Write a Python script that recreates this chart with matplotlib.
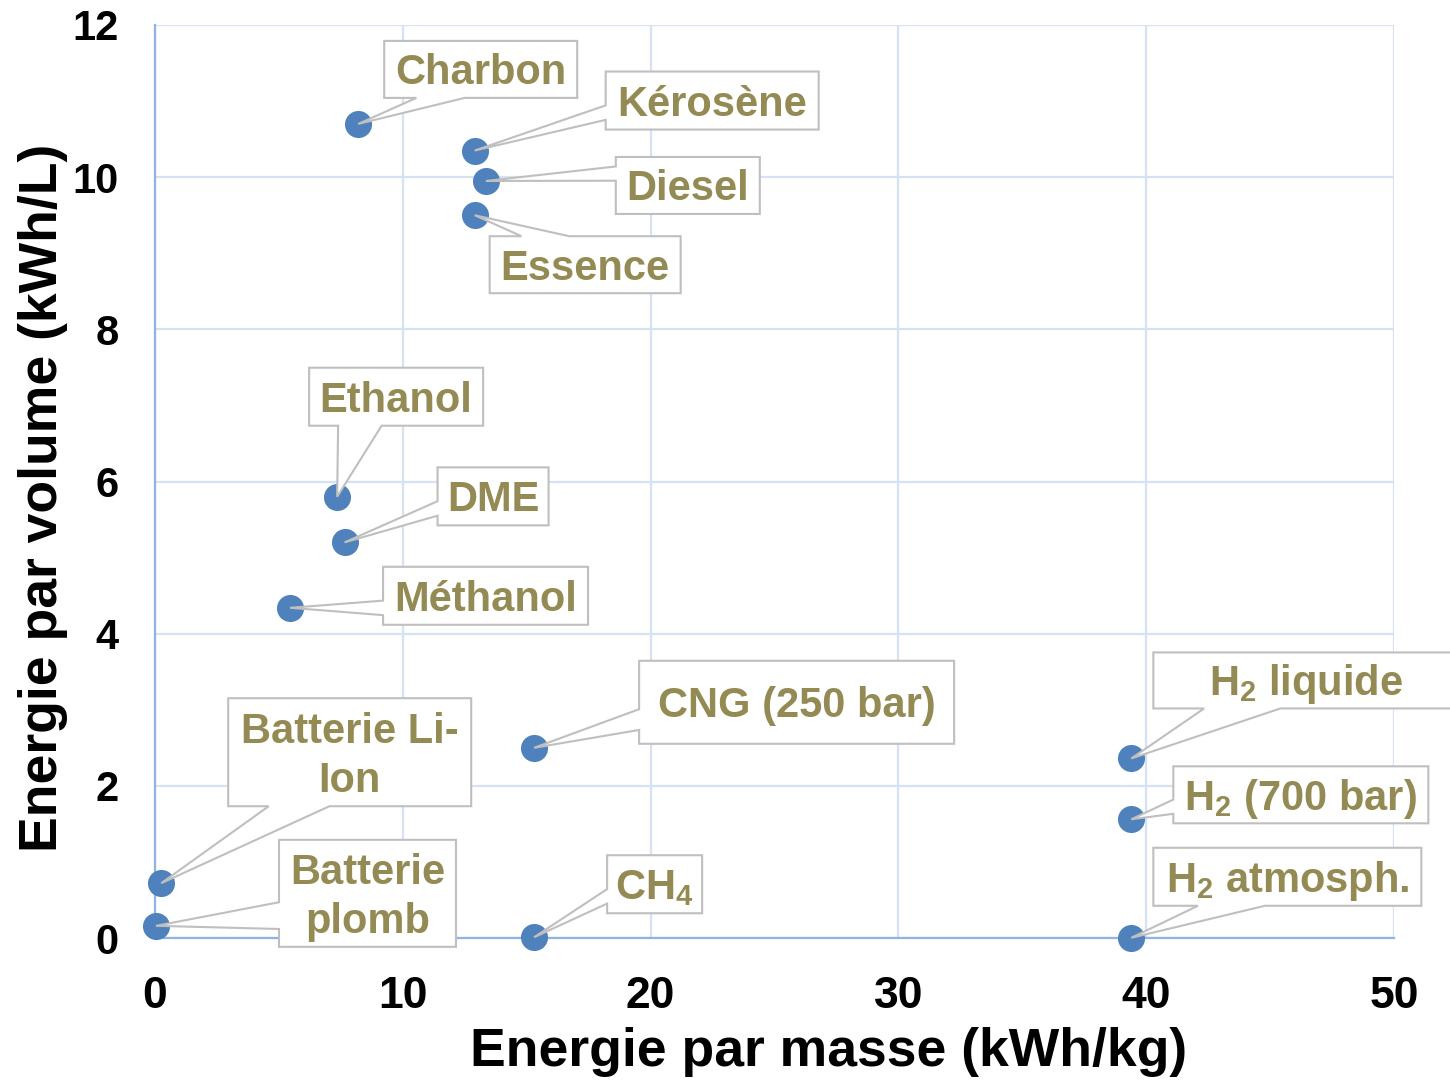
import matplotlib
matplotlib.use('Agg')
import matplotlib.pyplot as plt
from matplotlib.patches import Polygon
from matplotlib.transforms import IdentityTransform

# ---------------- data ----------------
names = ['Charbon', 'Kérosène', 'Diesel', 'Essence', 'Ethanol', 'DME', 'Méthanol',
         'CNG (250 bar)', 'CH4', 'Batterie Li-Ion', 'Batterie plomb',
         'H2 liquide', 'H2 (700 bar)', 'H2 atmosph.']
masse = [8.2, 12.9, 13.35, 12.9, 7.35, 7.65, 5.45,
         15.3, 15.3, 0.25, 0.04,
         39.4, 39.4, 39.4]          # kWh/kg
volume = [10.7, 10.35, 9.95, 9.5, 5.8, 5.2, 4.34,
          2.5, 0.01, 0.72, 0.16,
          2.36, 1.56, 0.003]        # kWh/L

label_text = {
    'Charbon': ['Charbon'],
    'Kérosène': ['Kérosène'],
    'Diesel': ['Diesel'],
    'Essence': ['Essence'],
    'Ethanol': ['Ethanol'],
    'DME': ['DME'],
    'Méthanol': ['Méthanol'],
    'CNG (250 bar)': ['CNG (250 bar)'],
    'CH4': [r'CH$_\mathrm{4}$'],
    'Batterie Li-Ion': ['Batterie Li-', 'Ion'],
    'Batterie plomb': ['Batterie', 'plomb'],
    'H2 liquide': [r'H$_\mathrm{2}$ liquide'],
    'H2 (700 bar)': [r'H$_\mathrm{2}$ (700 bar)'],
    'H2 atmosph.': [r'H$_\mathrm{2}$ atmosph.'],
}

# callout layout: edge holding the pointer, box left/top offset from the point (px, y down), width, height
callout_layout = {
    'Charbon': ('B', 26, -83, 193, 57),
    'Kérosène': ('L', 131, -79, 213, 58),
    'Diesel': ('L', 130, -24, 144, 57),
    'Essence': ('T', 15, 21, 191, 57),
    'Ethanol': ('B', -28, -129, 174, 58),
    'DME': ('L', 93, -75, 111, 58),
    'Méthanol': ('L', 93, -41, 205, 58),
    'CNG (250 bar)': ('L', 105, -87, 315, 83),
    'CH4': ('L', 73, -82, 95, 58),
    'Batterie Li-Ion': ('B', 67, -185, 243, 108),
    'Batterie plomb': ('L', 123, -86, 177, 107),
    'H2 liquide': ('B', 22, -106, 305, 56),
    'H2 (700 bar)': ('L', 42, -53, 255, 57),
    'H2 atmosph.': ('B', 22, -90, 268, 58),
}

plt.rcParams['font.family'] = 'Liberation Sans'
plt.rcParams['font.weight'] = 'bold'
plt.rcParams['axes.labelweight'] = 'bold'
plt.rcParams['mathtext.fontset'] = 'custom'
plt.rcParams['mathtext.rm'] = 'Liberation Sans:bold'
plt.rcParams['mathtext.it'] = 'Liberation Sans:bold'
plt.rcParams['mathtext.bf'] = 'Liberation Sans:bold'

W_PX, H_PX = 1450, 1081
fig = plt.figure(figsize=(W_PX / 100, H_PX / 100), dpi=100)
ax = fig.add_axes([155 / W_PX, 1 - 938 / H_PX, 1239 / W_PX, 913 / H_PX])

ax.set_xlim(0, 50)
ax.set_ylim(0, 12)
ax.set_xticks(range(0, 51, 10))
ax.set_yticks(range(0, 13, 2))
ax.grid(True, color='#D6E2F3', lw=1.6)
ax.set_axisbelow(True)
for s in ['top', 'right']:
    ax.spines[s].set_visible(False)
for s in ['left', 'bottom']:
    ax.spines[s].set_color('#8EB4E3')
    ax.spines[s].set_linewidth(1.6)
ax.tick_params(axis='both', length=0, labelcolor='black')
ax.tick_params(axis='x', pad=27, labelsize=32)
ax.tick_params(axis='y', pad=26, labelsize=30)

ax.set_xlabel('Energie par masse (kWh/kg)', fontsize=38.5, fontweight='bold')
ax.set_ylabel('Energie par volume (kWh/L)', fontsize=38.5, fontweight='bold')
ax.xaxis.set_label_coords(0.544, -0.097)
ax.yaxis.set_label_coords(-0.070, 0.482)

ax.scatter(masse, volume, s=380, color='#4F81BD', linewidths=0, zorder=3, clip_on=False)

# ---------------- callouts ----------------
line_col = '#BFBFBF'
text_col = '#948A54'
for name, x, y in zip(names, masse, volume):
    edge, dx, dy, w, h = callout_layout[name]
    px, py = ax.transData.transform((x, y))
    ix, iy = px, H_PX - py
    L, T = ix + dx, iy + dy
    R, B = L + w, T + h
    if edge == 'L':
        f = (7 / 12, 10 / 12) if iy > (T + B) / 2 else (2 / 12, 5 / 12)
        pts = [(L, T), (R, T), (R, B), (L, B), (L, T + f[1] * h), (ix, iy), (L, T + f[0] * h)]
    elif edge == 'B':
        f = (2 / 12, 5 / 12) if ix < (L + R) / 2 else (7 / 12, 10 / 12)
        pts = [(L, T), (R, T), (R, B), (L + f[1] * w, B), (ix, iy), (L + f[0] * w, B), (L, B)]
    else:
        f = (2 / 12, 5 / 12) if ix < (L + R) / 2 else (7 / 12, 10 / 12)
        pts = [(L, T), (L + f[0] * w, T), (ix, iy), (L + f[1] * w, T), (R, T), (R, B), (L, B)]
    poly = Polygon([(a, H_PX - b) for a, b in pts], closed=True, transform=IdentityTransform(),
                   fc='white', ec=line_col, lw=1.5, joinstyle='miter', zorder=5)
    fig.add_artist(poly)

    lines = label_text[name]
    cx, cy = (L + R) / 2, (T + B) / 2
    n = len(lines)
    for i, s in enumerate(lines):
        base = cy + 15 + (i - (n - 1) / 2) * 49
        fig.text(cx, H_PX - base, s, transform=IdentityTransform(), ha='center', va='baseline',
                 fontsize=30, color=text_col, zorder=6)

fig.savefig('out.png', dpi=100)
